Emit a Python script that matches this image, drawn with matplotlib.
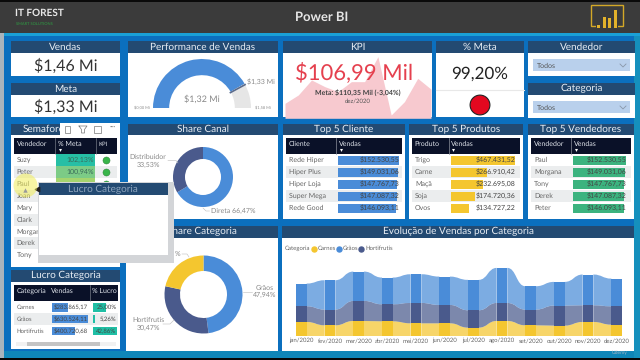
import numpy as np
import matplotlib
matplotlib.use("Agg")
from matplotlib import pyplot as plt
from matplotlib.patches import Rectangle, PathPatch, Circle
from matplotlib.path import Path

plt.rcParams["font.family"] = ["Lato", "DejaVu Sans"]
plt.rcParams["text.hinting"] = "no_hinting"
plt.rcParams["text.hinting_factor"] = 1

# data
vendedores_sem = ["Suzy", "Peter", "Paul", "Joan", "Mary", "Clark", "Morgan", "Derek", "Tony"]
meta_pct_labels = ["102,13%", "100,94%"]

canal_share = [66.47, 33.53]
cat_share = [47.94, 30.47, 21.59]

gauge_value = 1.32
gauge_target = 1.33
gauge_max = 1.58

kpi_trend = [90, 100, 118, 110, 104, 116, 116, 146, 76, 92, 120, 107]

clientes = ["Rede Hiper", "Hiper Plus", "Hiper Loja", "Super Mega", "Rede Good"]
clientes_vendas = [152530.55, 149031.06, 147767.73, 147087.32, 146093.11]
produtos = ["Trigo", "Carne", "Maçã", "Soja", "Ovos"]
produtos_vendas = [467431.52, 266910.42, 232695.08, 174720.36, 134727.22]
top_vendedores = ["Paul", "Morgana", "Tony", "Derek", "Peter"]
top_vendedores_vendas = [152530.55, 149031.06, 147767.73, 147087.32, 146093.11]

lucro_cats = ["Carnes", "Grãos", "Hortifrutis"]
lucro_vendas = [283865.17, 630524.11, 400720.68]
lucro_pct = [25.00, 5.26, 42.86]

meses = ["jan/2020", "fev/2020", "mar/2020", "abr/2020", "mai/2020", "jun/2020",
         "jul/2020", "ago/2020", "set/2020", "out/2020", "nov/2020", "dez/2020"]
carnes = [28.6, 21.8, 30.6, 29.9, 25.8, 25.8, 17.0, 30.6, 21.8, 21.1, 28.6, 23.1]
hortifrutis = [32.0, 32.0, 40.8, 34.7, 41.5, 37.4, 35.4, 36.7, 32.0, 40.8, 34.0, 37.4]
graos = [46.2, 59.8, 59.8, 54.4, 58.5, 57.8, 61.9, 71.4, 47.6, 48.3, 62.6, 56.4]

NAVY = "#234a72"
BLUE = "#4a8cd8"
DARKBLUE = "#4a5a8c"
YELLOW = "#f4c62f"
GREEN = "#3cb37f"
TEAL = "#1fbfa5"
GREY = "#666666"
HEAD = "#0a1128"
W, H = 640, 360


def fmt(v):
    return "$" + f"{v:,.2f}".replace(",", "X").replace(".", ",").replace("X", ".")


def pixel_axes(z):
    a = fig.add_axes([0, 0, 1, 1], zorder=z)
    a.set_xlim(0, W)
    a.set_ylim(H, 0)
    a.axis("off")
    return a


fig = plt.figure(figsize=(6.4, 3.6), dpi=100)
bg = pixel_axes(0)
fg = pixel_axes(6)


def box(x0, y0, x1, y1, color, z=1, **kw):
    bg.add_patch(Rectangle((x0, y0), x1 - x0, y1 - y0, fc=color, ec="none", zorder=z, **kw))


def panel(x0, x1, y0, y_head, y1, title, size=7.5, tx=None):
    box(x0, y0, x1, y_head, NAVY, 2)
    box(x0, y_head, x1, y1, "white", 2)
    bg.text((x0 + x1) / 2 if tx is None else tx, (y0 + y_head) / 2 - 0.3, title, color="#e8eef5",
            fontsize=size, ha="center", va="center", zorder=3)


def inset(x0, y0, x1, y1, z=4):
    a = fig.add_axes([x0 / W, 1 - y1 / H, (x1 - x0) / W, (y1 - y0) / H], zorder=z)
    a.axis("off")
    return a


def donut(cx, cy, r, hole, vals, colors):
    a = inset(cx - r, cy - r, cx + r, cy + r)
    a.pie(vals, colors=colors, startangle=90, counterclock=False, radius=1,
          wedgeprops=dict(width=1 - hole / r, ec="none"))
    a.set_xlim(-1, 1)
    a.set_ylim(-1, 1)
    return a


def top_table(x0, x1, col2, y_head, heads, names, vals, color, bar_end):
    box(x0 + 3, y_head, x1 - 3, y_head + 16, HEAD, 3)
    bg.plot([col2, col2], [y_head, y_head + 16], color="#8a8f9a", lw=0.5, zorder=4)
    bg.text(x0 + 5.5, y_head + 6, heads[0], color="#dfe3ea", fontsize=4.8, va="center", zorder=4)
    bg.text(col2 + 2.5, y_head + 6, heads[1], color="#dfe3ea", fontsize=4.8, va="center", zorder=4)
    bg.text(col2 + 5, y_head + 11.5, "▾", color="white", fontsize=4, ha="center", va="center", zorder=4)
    rows_y = y_head + 22.3 + np.arange(5) * 12
    for i, y in enumerate(rows_y):
        if i % 2 == 1:
            box(x0 + 3, y - 6, x1 - 3, y + 6, "#ebedee", 3)
        bg.text(x0 + 6, y, names[i], color=GREY, fontsize=5, va="center", zorder=5)
    a = inset(col2 + 2, rows_y[0] - 6, bar_end, rows_y[-1] + 6)
    a.barh(range(5), vals, height=0.72, color=color)
    a.set_ylim(4.5, -0.5)
    a.set_xlim(0, max(vals))
    for i, v in enumerate(vals):
        a.text(1.0, i, fmt(v), transform=a.get_yaxis_transform(), ha="right", va="center",
               fontsize=5, color="#444444", clip_on=False)


# background
box(0, 0, W, H, "#0b6fbe", 0)
box(0, 33, W, 36, "#1aa0d6", 1)
box(0, 33, 4, H, "#a9b4bc", 1)
box(0, 351, W, 358, "#0f86b8", 0.5)
box(634, 36, W, 358, "#1590bd", 0.5)
box(0, 0, W, 33, "#3b3b3b", 1)
box(0, 0, W, 2, "#0a0a0a", 1)
box(0, 358, W, H, "#060606", 6)

# title bar
bg.text(15, 13.5, "IT FOREST", color="#e8e8e8", fontsize=7, fontweight="bold", va="center", zorder=3,
        family=["Liberation Sans Narrow", "Lato"])
bg.text(16, 24, "SMART SOLUTIONS", color="#2ea043", fontsize=2.8, va="center", zorder=3)
bg.text(321.5, 17, "Power BI", color="#e6e6e6", fontsize=9.5, fontweight="bold", ha="center", va="center", zorder=3)
bg.add_patch(Rectangle((591, 5), 31.5, 21, fc="none", ec="#d4a827", lw=1, zorder=3))
box(596, 23, 618, 29, "#3b3b3b", 3.5)
logo = inset(596, 10, 618, 28)
logo.bar(range(4), [3, 11, 10, 18], width=0.55, color="#e3b22b")
logo.set_xlim(-0.5, 3.5)
logo.set_ylim(0, 18)

# cards
panel(11, 120, 41, 53, 76, "Vendas", 7)
bg.text(65.5, 66, "$1,46 Mi", fontsize=11.5, color="#333333", ha="center", va="center", zorder=3)
panel(11, 120, 83, 95, 117, "Meta", 7)
bg.text(65.5, 107, "$1,33 Mi", fontsize=11.5, color="#333333", ha="center", va="center", zorder=3)

# gauge
panel(128, 278, 41, 53, 117, "Performance de Vendas", 7)
g = inset(153, 59, 251, 157)
g.pie([gauge_value, gauge_max - gauge_value, gauge_max], colors=[BLUE, "#e6e6e6", "none"], startangle=180,
      counterclock=False, radius=1, wedgeprops=dict(width=0.33, ec="none"))
g.set_xlim(-1, 1)
g.set_ylim(-1, 1)
ang = np.pi * (1 - gauge_target / gauge_max)
g.plot([0.66 * np.cos(ang), np.cos(ang)], [0.66 * np.sin(ang), np.sin(ang)], color="#5a6b8c", lw=1.2)
fg.text(202, 99, "$1,32 Mi", fontsize=6.4, color="#888888", ha="center", va="center")
fg.text(261, 82, "$1,33 Mi", fontsize=4.7, color="#888888", ha="center", va="center")
fg.text(142, 107.5, "$0,00 Mi", fontsize=3.1, color="#888888", ha="center", va="center")
fg.text(263, 107.5, "$1,58 Mi", fontsize=3.1, color="#888888", ha="center", va="center")

# KPI
panel(283, 432, 41, 53, 117, "KPI", 7)
k = inset(285, 54, 431, 118.3, z=3)
k.fill_between(range(len(kpi_trend)), kpi_trend, 72, color="#f7c9cf", lw=0)
k.set_xlim(0, len(kpi_trend) - 1)
k.set_ylim(72, 149.2)
fg.text(354.5, 73, "$106,99 Mil", fontsize=15.5, color="#e5404e", ha="center", va="center")
fg.text(358, 92.5, "Meta: $110,35 Mil (-3,04%)", fontsize=4.8, color="#444444", fontweight="bold", ha="center", va="center")
fg.text(358, 101.5, "dez/2020", fontsize=4.2, color="#555555", ha="center", va="center")

# % meta
panel(436, 524, 41, 53, 117, "% Meta", 7)
bg.text(480, 74, "99,20%", fontsize=12, color="#222222", ha="center", va="center", zorder=3)
bg.plot([436, 524], [90, 90], color="#e8e8e8", lw=0.8, zorder=3)
light = inset(469, 94, 491, 116)
light.add_patch(Circle((0, 0), 0.9, fc="#e3081f", ec="#222222", lw=0.8))
light.set_xlim(-1, 1)
light.set_ylim(-1, 1)

# slicers
for y0, title in [(41, "Vendedor"), (83, "Categoria")]:
    panel(528, 635, y0, y0 + 12, y0 + 34.5, title, 7)
    box(533, y0 + 18, 630, y0 + 30, "#b9d0ec", 3)
    bg.text(537, y0 + 24.5, "Todos", fontsize=4.8, color="#555555", va="center", zorder=4)
    bg.plot([620, 623, 626], [y0 + 23, y0 + 26, y0 + 23], color="#8a97a8", lw=0.6, zorder=4)

# semaforo
panel(11, 120, 124, 135, 267, "Semaforo", 7.5, tx=44)
box(14, 138, 117, 153.5, HEAD, 3)
bg.text(16.5, 144, "Vendedor", color="#dfe3ea", fontsize=4.8, va="center", zorder=4)
bg.text(58.5, 144, "% Meta", color="#dfe3ea", fontsize=4.8, va="center", zorder=4)
bg.text(98, 144, "KPI", color="#dfe3ea", fontsize=4.4, va="center", zorder=4)
bg.text(60.5, 149.5, "▾", color="white", fontsize=4, ha="center", va="center", zorder=4)
bg.plot([55, 55], [138, 153.5], color="#8a8f9a", lw=0.4, zorder=4)
bg.plot([95.5, 95.5], [138, 153.5], color="#8a8f9a", lw=0.4, zorder=4)
sem_y = 160 + np.arange(len(vendedores_sem)) * 11.9
for i, y in enumerate(sem_y):
    if i % 2 == 1:
        box(14, y - 6, 117, y + 6, "#ebedee", 3)
    bg.text(16.5, y, vendedores_sem[i], color=GREY, fontsize=5, va="center", zorder=4)
box(56, 154, 95, 166, "#26bfa5", 4)
box(56, 166, 95, 178, "#7ccb86", 4)
box(56, 178, 95, 190, "#a5d46e", 4)
for y, lab in zip(sem_y[:2], meta_pct_labels):
    bg.text(93.5, y, lab, color="#3a6a5a", fontsize=5, ha="right", va="center", zorder=5)
bg.scatter([106, 106, 106], sem_y[:3], s=26, color="#39b54a", edgecolor="#2c7a36", lw=0.3, zorder=5)

# share canal
panel(128, 278, 124, 135, 219, "Share Canal", 7.5)
donut(203, 177, 30, 18, canal_share, [BLUE, DARKBLUE])
fg.text(148, 161, "Distribuidor\n33,53%", fontsize=4.8, color="#888888", ha="center", va="center", linespacing=1.2)
fg.plot([168, 176, 178], [160.5, 160.5, 163], color="#bbbbbb", lw=0.4)
fg.text(211, 211, "Direta 66,47%", fontsize=4.8, color="#888888", va="center")
fg.plot([203, 206, 209.5], [208, 211, 211], color="#bbbbbb", lw=0.4)

# top 5 tables
panel(283, 405, 124, 135, 219, "Top 5 Cliente", 7.5)
top_table(283, 405, 336, 138, ("Cliente", "Vendas"), clientes, clientes_vendas, BLUE, 399)
panel(409, 523, 124, 135, 219, "Top 5 Produtos", 7.5)
top_table(409, 523, 448.5, 138, ("Produto", "Vendas"), produtos, produtos_vendas, YELLOW, 515)
panel(528, 634, 124, 135, 219, "Top 5 Vendedores", 7.5)
top_table(528, 634, 571, 138, ("Vendedor", "Vendas"), top_vendedores, top_vendedores_vendas, GREEN, 626)

# share categoria
panel(126, 278, 226, 238, 351, "Share Categoria", 7.5)
donut(203.5, 294.5, 39, 23.5, cat_share, [BLUE, DARKBLUE, YELLOW])
fg.text(265, 291.5, "Grãos\n47,94%", fontsize=4.8, color="#888888", ha="center", va="center", linespacing=1.2)
fg.plot([243, 252], [292, 292], color="#bbbbbb", lw=0.4)
fg.text(148, 324, "Hortifrutis\n30,47%", fontsize=4.8, color="#888888", ha="center", va="center", linespacing=1.2)
fg.plot([163, 170, 174], [324, 324, 320], color="#bbbbbb", lw=0.4)
fg.text(177, 253.5, "%", fontsize=4.8, color="#888888", ha="center", va="center")
fg.plot([182, 187, 189], [254, 254, 257], color="#bbbbbb", lw=0.4)

# lucro categoria
panel(11, 120, 270, 282, 349, "Lucro Categoria", 7.5)
box(14, 285, 118, 301, HEAD, 3)
bg.text(16.5, 291, "Categoria", color="#dfe3ea", fontsize=4.8, va="center", zorder=4)
bg.text(51, 291, "Vendas", color="#dfe3ea", fontsize=4.8, va="center", zorder=4)
bg.text(104, 291, "% Lucro", color="#dfe3ea", fontsize=4.8, ha="center", va="center", zorder=4)
bg.plot([90, 90], [285, 301], color="#8a8f9a", lw=0.4, zorder=4)
box(14, 313.3, 118, 325.3, "#ebedee", 3)
luc_y = 307.3 + np.arange(3) * 11.9
for i, y in enumerate(luc_y):
    fg.text(16.5, y, lucro_cats[i], color=GREY, fontsize=4.6, va="center")
    fg.text(87.5, y, fmt(lucro_vendas[i]), color="#444444", fontsize=4.6, ha="right", va="center")
    fg.text(116.5, y, f"{lucro_pct[i]:.2f}%".replace(".", ","), color="#444444", fontsize=4.6, ha="right", va="center")
lv = inset(52, luc_y[0] - 5.9, 87.5, luc_y[-1] + 5.9, z=3)
lv.barh(range(3), lucro_vendas, height=0.72, color=BLUE)
lv.set_xlim(0, max(lucro_vendas))
lv.set_ylim(2.5, -0.5)
lp = inset(92.5, luc_y[0] - 5.9, 116.5, luc_y[-1] + 5.9, z=3)
lp.barh(range(3), lucro_pct, height=0.72, color=TEAL)
lp.set_xlim(0, max(lucro_pct))
lp.set_ylim(2.5, -0.5)
box(16, 342, 116, 346, "#f1f1f1", 3)
box(27, 342.3, 100, 345.7, "#c4c4c4", 3.5)

# evolucao, ribbon chart
panel(282, 634, 226, 238, 351, "Evolução de Vendas por Categoria", 7.5)
bg.text(285, 248.5, "Categoria", fontsize=4.4, color=GREY, va="center", zorder=4)
for x, c, name in [(314, YELLOW, "Carnes"), (339, BLUE, "Grãos"), (361, DARKBLUE, "Hortifrutis")]:
    bg.scatter([x], [248.5], s=13, color=c, zorder=4)
    bg.text(x + 4, 248.5, name, fontsize=4.4, color=GREY, va="center", zorder=4)

r = inset(287, 254, 631, 336)
carnes_a = np.array(carnes)
hort_a = np.array(hortifrutis)
graos_a = np.array(graos)
pos = np.arange(len(meses))
width = 0.37
stack = [(carnes_a, 0 * carnes_a, YELLOW), (hort_a, carnes_a, DARKBLUE), (graos_a, carnes_a + hort_a, BLUE)]
for vals, base, c in stack:
    r.bar(pos, vals, bottom=base, width=width, color=c, zorder=3)
    for i in range(len(pos) - 1):
        x0, x1 = pos[i] + width / 2, pos[i + 1] - width / 2
        xm = (x0 + x1) / 2
        b0, b1 = base[i], base[i + 1]
        t0, t1 = b0 + vals[i], b1 + vals[i + 1]
        verts = [(x0, b0), (xm, b0), (xm, b1), (x1, b1), (x1, t1), (xm, t1), (xm, t0), (x0, t0), (x0, b0)]
        codes = [Path.MOVETO, Path.CURVE4, Path.CURVE4, Path.CURVE4, Path.LINETO,
                 Path.CURVE4, Path.CURVE4, Path.CURVE4, Path.CLOSEPOLY]
        r.add_patch(PathPatch(Path(verts, codes), fc=c, ec="none", alpha=0.72, zorder=2))
r.set_xlim(pos[0] - 0.5, pos[-1] + 0.5)
r.set_ylim(0, 167)
for i, m in enumerate(meses):
    r.text(i, -4, m, fontsize=4.2, color=GREY, ha="center", va="top", clip_on=False)

# tooltip popup over the semaforo
pop = pixel_axes(10)
pop.add_patch(Rectangle((38, 181.5), 135.5, 81.5, fc="#d3d5d8", ec="none"))
pop.add_patch(Rectangle((39, 183), 129, 72, fc="white", ec="none"))
pop.add_patch(Rectangle((39, 183), 129, 12, fc=NAVY, ec="none"))
pop.text(103, 189, "Lucro Categoria", fontsize=7, color="#8fa6bf", ha="center", va="center")
pop.scatter([36.5], [188.5], marker="<", s=10, color="#222222")
pop.scatter([25], [185], s=300, color="#f2ee5a", alpha=0.55, lw=0)
pop.scatter([25], [190], marker="^", s=10, color="#9a9a9a", lw=0)

# visual header icons
pop.add_patch(Rectangle((60, 123), 60, 12, fc="white", ec="none"))
pop.add_patch(Rectangle((65, 126), 5, 7, fc="none", ec="#777777", lw=0.5))
pop.plot([79, 87, 84.5, 84.5, 81.5, 81.5, 79], [126, 126, 129.5, 133, 133, 129.5, 126], color="#777777", lw=0.5)
pop.add_patch(Rectangle((94, 126), 7, 7, fc="none", ec="#777777", lw=0.5))
pop.text(113, 128, "···", fontsize=6, color="#777777", ha="center", va="center")

# udemy mark
fg.text(612, 352.5, "Udemy", fontsize=3.8, color="#9fb4c4", va="center", zorder=7)

fig.savefig("out.png", dpi=100)
